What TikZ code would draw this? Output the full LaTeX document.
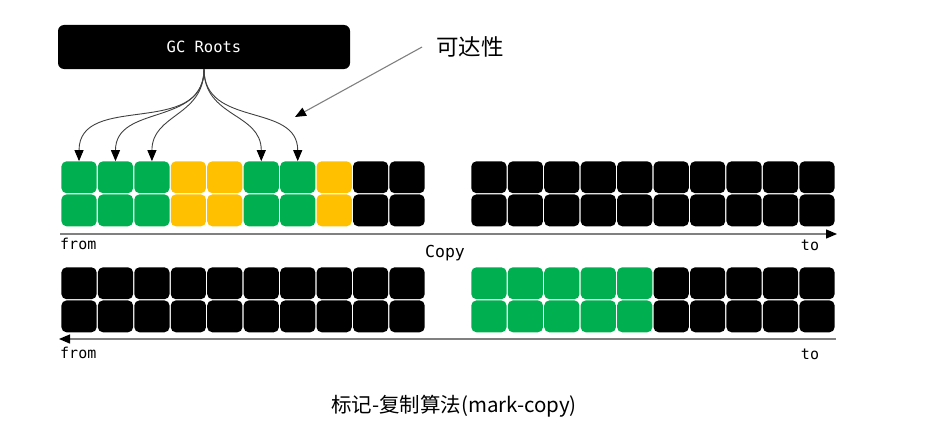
\documentclass[tikz,border=0pt]{standalone}
\usepackage{fontspec}
\newfontfamily\cjkfont{Noto Sans CJK SC}
\newfontfamily\monofont{DejaVu Sans Mono}
\usetikzlibrary{arrows.meta}
\definecolor{livegreen}{HTML}{00B050}
\definecolor{deadyellow}{HTML}{FFC000}
\tikzset{>={Triangle[length=11pt,width=9pt,color=black]}}
\tikzset{cell/.style={minimum width=35.2pt,minimum height=31.8pt,inner sep=0pt,rounded corners=5pt}}
\tikzset{axis/.style={draw=gray,line width=1.3pt}}
\tikzset{monolabel/.style={font=\monofont\fontsize{15}{17}\selectfont,inner sep=0pt}}

\begin{document}
\begin{tikzpicture}[x=1pt,y=-1pt]
\useasboundingbox (0,0) rectangle (936,436);

\def\cw{36.45}
\def\ch{33.1}

% from space, before copy
\foreach \c/\col in {1/livegreen,2/livegreen,3/livegreen,4/deadyellow,5/deadyellow,6/livegreen,7/livegreen,8/deadyellow,9/black,10/black}{
  \foreach \r in {1,2}{
    \node[cell,fill=\col] (fa-\c-\r) at ({60.8+\cw*(\c-0.5)},{160.7+\ch*(\r-0.5)}) {};
  }
}
% to space, before copy
\foreach \c in {1,...,10}{
  \foreach \r in {1,2}{
    \node[cell,fill=black] (ta-\c-\r) at ({470.7+\cw*(\c-0.5)},{160.7+\ch*(\r-0.5)}) {};
  }
}
% from space, after copy
\foreach \c in {1,...,10}{
  \foreach \r in {1,2}{
    \node[cell,fill=black] (fb-\c-\r) at ({60.8+\cw*(\c-0.5)},{266.7+\ch*(\r-0.5)}) {};
  }
}
% to space, after copy
\foreach \c/\col in {1/livegreen,2/livegreen,3/livegreen,4/livegreen,5/livegreen,6/black,7/black,8/black,9/black,10/black}{
  \foreach \r in {1,2}{
    \node[cell,fill=\col] (tb-\c-\r) at ({470.7+\cw*(\c-0.5)},{266.7+\ch*(\r-0.5)}) {};
  }
}

\node[fill=black,rounded corners=6pt,minimum width=292pt,minimum height=44pt,text=white,
      font=\monofont\fontsize{15.5}{18}\selectfont] (gc) at (204,47) {GC Roots};

\foreach \c in {1,2,3,6,7}
  \draw[->,black!75,line width=0.9pt] (gc.south) to[out=-90,in=90,looseness=1.15] (fa-\c-1.north);

\node[font=\cjkfont\fontsize{22.5}{26}\selectfont,inner xsep=14pt] (reach) at (470,47) {可达性};
\coordinate (reachtip) at (295,117);
\draw[->,gray,line width=1.1pt] (reach.west) -- (reachtip);

\coordinate (top-from) at (60,234);
\coordinate (top-to) at (837,234);
\draw[axis,->] (top-from) -- (top-to);
\node[monolabel,anchor=west] (from-a) at (60,244) {from};
\node[monolabel] (to-a) at (810,245) {to};

\node[monolabel,font=\monofont\fontsize{16.5}{19}\selectfont] (copy) at (445,253) {Copy};

\coordinate (bot-from) at (59,339);
\coordinate (bot-to) at (836,339);
\draw[axis,->] (bot-to) -- (bot-from);
\node[monolabel,anchor=west] (from-b) at (60,353) {from};
\node[monolabel] (to-b) at (810,354) {to};

\node[font=\cjkfont\fontsize{20.5}{24}\selectfont] (caption) at (454,406) {标记-复制算法(mark-copy)};
\end{tikzpicture}
\end{document}
